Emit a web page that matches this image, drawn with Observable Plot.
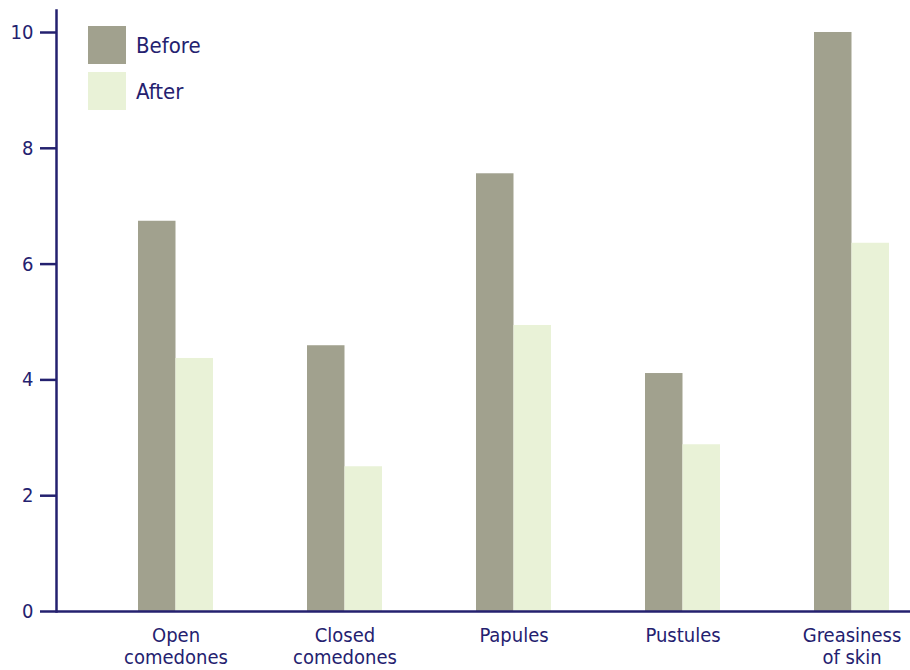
<!DOCTYPE html>
<html>
<head>
<meta charset="utf-8">
<script src="https://cdn.jsdelivr.net/npm/d3@7"></script>
<script src="https://cdn.jsdelivr.net/npm/@observablehq/plot@0.6"></script>
<style>
  html, body { margin: 0; padding: 0; background: #fff; }
  #wrap { position: relative; width: 910px; height: 670px; font-family: "Liberation Sans Narrow", "DejaVu Sans Condensed", sans-serif; color: #24216f; }
  #legend { position: absolute; left: 88px; top: 26px; }
  .item { display: flex; align-items: center; height: 38px; margin-bottom: 8px; font-size: 22px; }
  .sw { width: 38px; height: 38px; margin-right: 10px; }
</style>
</head>
<body>
<div id="wrap"><div id="legend"></div></div>
<script>
// Mean lesion scores before and after treatment
const categories = ["Open comedones", "Closed comedones", "Papules", "Pustules", "Greasiness of skin"];
const categoryLabels = ["Open\ncomedones", "Closed\ncomedones", "Papules", "Pustules", "Greasiness\nof skin"];
const series = ["Before", "After"];
const beforeValues = [6.74, 4.59, 7.56, 4.11, 10.0];
const afterValues = [4.37, 2.50, 4.94, 2.88, 6.36];
const yTicks = [0, 2, 4, 6, 8, 10];
const colors = ["#a1a18e", "#e9f2d7"];
const navy = "#24216f";

const rows = categories.flatMap((c, i) => [
  {category: c, series: "Before", value: beforeValues[i]},
  {category: c, series: "After", value: afterValues[i]}
]);
const labelOf = new Map(categories.map((c, i) => [c, categoryLabels[i]]));

const chart = Plot.plot({
  width: 910,
  height: 670,
  marginLeft: 56,
  marginRight: 0,
  marginTop: 10,
  marginBottom: 59,
  style: {fontFamily: "'Liberation Sans Narrow', 'DejaVu Sans Condensed', sans-serif", color: navy, background: "white"},
  x: {domain: categories, paddingInner: 0.558, paddingOuter: 0.2945, align: 0.79, label: null},
  y: {domain: [0, 10.38], label: null},
  color: {domain: series, range: colors},
  marks: [
    Plot.barY(rows.filter(d => d.series === "Before"), {x: "category", y: "value", fill: "series", insetRight: 37.5, insetLeft: 0}),
    Plot.barY(rows.filter(d => d.series === "After"), {x: "category", y: "value", fill: "series", insetLeft: 37.5, insetRight: 0}),
    Plot.frame({anchor: "left", stroke: navy, strokeWidth: 2.5}),
    Plot.ruleY([0], {stroke: navy, strokeWidth: 2.5}),
    Plot.axisY(yTicks, {tickSize: 16, tickPadding: 7, fontSize: 20, stroke: navy, strokeWidth: 2.5, fill: navy, tickFormat: d3.format("d")}),
    Plot.axisX({tickSize: 0, tickPadding: 15, fontSize: 20, lineHeight: 1.1, fill: navy, tickFormat: d => labelOf.get(d)})
  ]
});

const wrap = document.getElementById("wrap");
wrap.insertBefore(chart, wrap.firstChild);

const legend = document.getElementById("legend");
series.forEach((s, i) => {
  const item = document.createElement("div");
  item.className = "item";
  const sw = document.createElement("div");
  sw.className = "sw";
  sw.style.background = colors[i];
  const label = document.createElement("span");
  label.textContent = s;
  item.appendChild(sw);
  item.appendChild(label);
  legend.appendChild(item);
});
</script>
</body>
</html>
